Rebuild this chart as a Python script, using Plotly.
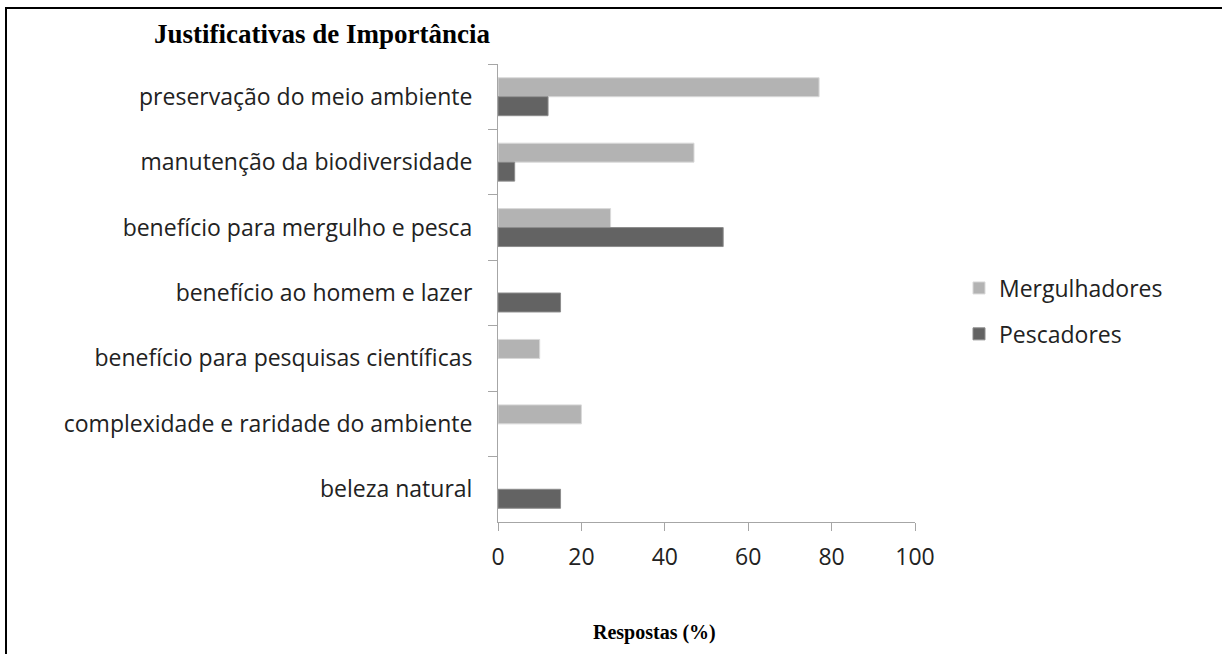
import plotly.graph_objects as go

categories = [
    "preservação do meio ambiente",
    "manutenção da biodiversidade",
    "benefício para mergulho e pesca",
    "benefício ao homem e lazer",
    "benefício para pesquisas científicas",
    "complexidade e raridade do ambiente",
    "beleza natural",
]
mergulhadores = [77, 47, 27, None, 10, 20, None]
pescadores = [12, 4, 54, 15, None, None, 15]
x_ticks = [0, 20, 40, 60, 80, 100]

W, H = 1222, 654
L, R, T, B = 498, 915, 64, 522  # plot area pixel box


def px(xp):
    return (xp - L) / (R - L)


def py(yp):
    return (B - yp) / (B - T)


fig = go.Figure()
fig.add_trace(go.Bar(
    y=categories, x=mergulhadores, orientation="h", name="Mergulhadores",
    marker=dict(color="#b3b3b3", line=dict(color="#d9d9d9", width=1)),
    legendgroup="m",
))
fig.add_trace(go.Bar(
    y=categories, x=pescadores, orientation="h", name="Pescadores",
    marker=dict(color="#636363", line=dict(color="#8c8c8c", width=1)),
    legendgroup="p",
))

fig.update_layout(
    width=W, height=H,
    margin=dict(l=L, r=W - R, t=T, b=H - B, pad=0),
    paper_bgcolor="white", plot_bgcolor="white",
    barmode="group", bargap=0.42, bargroupgap=0,
    font=dict(family="Open Sans", size=23, color="#222222"),
    showlegend=True,
    legend=dict(
        x=px(959), y=py(311), xanchor="left", yanchor="middle",
        font=dict(family="Open Sans", size=23, color="#222222"),
        tracegroupgap=13, traceorder="grouped",
        bgcolor="rgba(0,0,0,0)",
    ),
    xaxis=dict(
        range=[0, 100], tickvals=x_ticks, showgrid=False, zeroline=False,
        showline=True, linecolor="#a6a6a6", linewidth=1,
        ticks="outside", ticklen=8, tickcolor="#a6a6a6", ticklabelstandoff=6,
        tickfont=dict(family="Open Sans", size=23, color="#222222"),
    ),
    yaxis=dict(
        autorange="reversed", showgrid=False, zeroline=False,
        showline=True, linecolor="#a6a6a6", linewidth=1,
        ticks="outside", ticklen=9, tickcolor="#a6a6a6",
        tickson="boundaries", ticklabelstandoff=20,
        tickfont=dict(family="Open Sans", size=23, color="#222222"),
    ),
    annotations=[
        dict(text="<b>Justificativas de Importância</b>", xref="paper", yref="paper",
             x=px(322), y=py(34), xanchor="center", yanchor="middle", showarrow=False,
             font=dict(family="Liberation Serif", size=27, color="black")),
        dict(text="<b>Respostas (%)</b>", xref="paper", yref="paper",
             x=px(654), y=py(632), xanchor="center", yanchor="middle", showarrow=False,
             font=dict(family="Liberation Serif", size=20, color="black")),
    ],
    shapes=[
        dict(type="line", xref="paper", yref="paper",
             x0=px(5), x1=px(W), y0=py(8), y1=py(8),
             line=dict(color="black", width=2), layer="below"),
        dict(type="line", xref="paper", yref="paper",
             x0=px(6), x1=px(6), y0=py(7), y1=py(H),
             line=dict(color="black", width=2), layer="below"),
    ],
)

fig.write_html(
    "out.html",
    config={"displayModeBar": False},
    post_script=(
        "document.documentElement.style.overflow='hidden';"
        "document.body.style.overflow='hidden';"
        "document.body.style.margin='0';"
    ),
)
